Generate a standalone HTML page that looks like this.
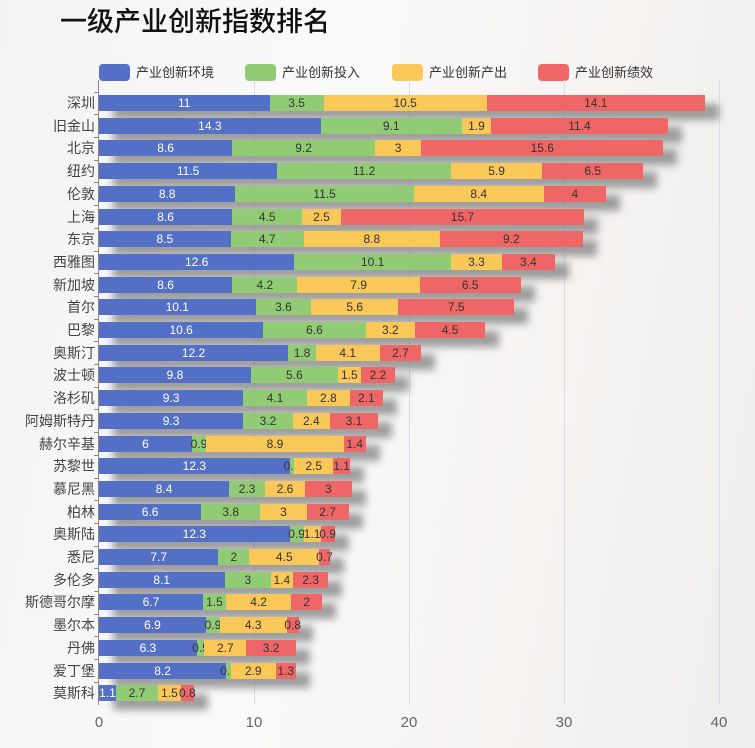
<!DOCTYPE html>
<html><head><meta charset="utf-8"><style>
body{margin:0;width:755px;height:748px;overflow:hidden;font-family:"Liberation Sans","Noto Sans CJK SC",sans-serif;background:linear-gradient(100deg,#f3f3f3 0%,#fafafa 40%,#f6f3f1 70%,#eeeeee 100%);position:relative}
.t{position:absolute;left:60px;top:0px;font-size:27px;color:#111;font-family:"Noto Sans CJK SC",sans-serif;font-weight:500}
.lg{position:absolute;top:64px;height:17px;font-size:13px;color:#333;line-height:17px}
.lg i{display:inline-block;width:31px;height:17px;border-radius:4px;vertical-align:top;margin-right:6px}
.a{position:absolute}
.bar{position:absolute;height:16px;font-size:12px;line-height:16px;white-space:nowrap;display:flex;justify-content:center}
.sh{position:absolute;height:16px;background:#777;filter:blur(4px);opacity:.7}
.c{position:absolute;right:660px;font-size:14px;color:#444;text-align:right;white-space:nowrap;line-height:18px}
.x{position:absolute;top:714px;font-size:15px;color:#666;width:40px;margin-left:-20px;text-align:center}
.g{position:absolute;top:80px;height:625px;width:1px;background:#d8dde8}
</style></head><body>
<div class="t">一级产业创新指数排名</div>
<div class="lg" style="left:99px"><i style="background:#5470c6"></i>产业创新环境</div>
<div class="lg" style="left:245px"><i style="background:#91cc75"></i>产业创新投入</div>
<div class="lg" style="left:392px"><i style="background:#fac858"></i>产业创新产出</div>
<div class="lg" style="left:538px"><i style="background:#ee6666"></i>产业创新绩效</div>
<div id="c"></div>
<script>
var d=[["深圳",11,3.5,10.5,14.1],["旧金山",14.3,9.1,1.9,11.4],["北京",8.6,9.2,3,15.6],["纽约",11.5,11.2,5.9,6.5],["伦敦",8.8,11.5,8.4,4],["上海",8.6,4.5,2.5,15.7],["东京",8.5,4.7,8.8,9.2],["西雅图",12.6,10.1,3.3,3.4],["新加坡",8.6,4.2,7.9,6.5],["首尔",10.1,3.6,5.6,7.5],["巴黎",10.6,6.6,3.2,4.5],["奥斯汀",12.2,1.8,4.1,2.7],["波士顿",9.8,5.6,1.5,2.2],["洛杉矶",9.3,4.1,2.8,2.1],["阿姆斯特丹",9.3,3.2,2.4,3.1],["赫尔辛基",6,0.9,8.9,1.4],["苏黎世",12.3,0.3,2.5,1.1],["慕尼黑",8.4,2.3,2.6,3],["柏林",6.6,3.8,3,2.7],["奥斯陆",12.3,0.9,1.1,0.9],["悉尼",7.7,2,4.5,0.7],["多伦多",8.1,3,1.4,2.3],["斯德哥尔摩",6.7,1.5,4.2,2],["墨尔本",6.9,0.9,4.3,0.8],["丹佛",6.3,0.5,2.7,3.2],["爱丁堡",8.2,0.3,2.9,1.3],["莫斯科",1.1,2.7,1.5,0.8]];
var col=["#5470c6","#91cc75","#fac858","#ee6666"],tc=["#fff","#333","#333","#333"];
var X0=99,S=15.5,h="";
[10,20,30,40].forEach(function(v){h+='<div class="g" style="left:'+(X0+v*S)+'px"></div>';});
[0,10,20,30,40].forEach(function(v){h+='<div class="x" style="left:'+(X0+v*S)+'px">'+v+'</div>';});
h+='<div class="a" style="left:98px;top:80px;width:1px;height:625px;background:#888"></div>';
d.forEach(function(r,i){
 var cy=103+i*22.7,top=cy-8,x=X0,tot=r[1]+r[2]+r[3]+r[4];
 h+='<div class="sh" style="left:'+(X0+14)+'px;top:'+(top+9)+'px;width:'+(tot*S)+'px"></div>';
 h+='<div class="a" style="left:94px;top:'+(cy-11.35)+'px;width:5px;height:1px;background:#888"></div>';
 h+='<div class="c" style="top:'+(cy-9)+'px">'+r[0]+'</div>';
 for(var k=0;k<4;k++){var w=r[k+1]*S;h+='<div class="bar" style="left:'+x+'px;top:'+top+'px;width:'+w+'px;background:'+col[k]+';color:'+tc[k]+';z-index:'+(k+1)+'"><span>'+r[k+1]+'</span></div>';x+=w;}
});
document.getElementById("c").innerHTML=h;
</script>
</body></html>
